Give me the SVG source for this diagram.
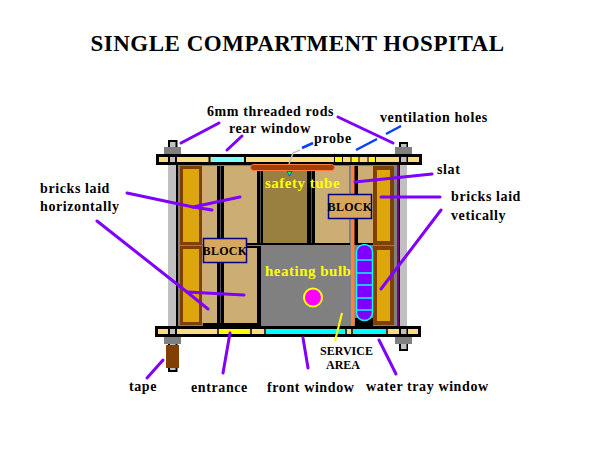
<svg xmlns="http://www.w3.org/2000/svg" width="600" height="450" viewBox="0 0 600 450">
<style>
text{font-family:"Liberation Serif",serif;font-weight:bold;font-size:14px;letter-spacing:.6px;fill:#000}
.y{fill:#ffff00;font-size:15px;letter-spacing:.5px}
.sm{font-size:12px;letter-spacing:0}
.bl{font-size:12px;letter-spacing:.3px}
.tan{fill:#ccae74}
.k{fill:#000}
.bar{fill:#ffdb80;stroke:#000;stroke-width:3}
.brick{fill:#dca60c;stroke:#804000}
.nut{fill:#808080}
.p{stroke:#7f00ff;stroke-width:3;fill:none;stroke-linecap:round}
.b{stroke:#0040ff;stroke-width:2.500;fill:none}
.block{fill:#d6a75c;stroke:#000080;stroke-width:1.500}
.rung{stroke:#00ffff;stroke-width:1.500}
</style>
<rect width="600" height="450" fill="#fff"/>
<text id="title" x="297.500" y="51" text-anchor="middle" style="font-size:23px;letter-spacing:.5px">SINGLE COMPARTMENT HOSPITAL</text>
<g id="enclosure">
<rect x="177" y="165" width="220" height="161" fill="#808080"/>
<rect x="397" y="165" width="2.500" height="161" fill="#800080"/>
</g>
<g id="rods">
<rect x="168" y="140" width="9.500" height="232" class="k"/>
<rect x="170" y="142" width="5.500" height="228" fill="#c0c0c0"/>
<rect x="168" y="154" width="8" height="172" fill="#c0c0c0"/>
<rect x="176" y="154" width="2" height="172" class="k"/>
<rect x="399" y="142" width="9" height="209" class="k"/>
<rect x="401" y="144" width="5.500" height="205" fill="#c0c0c0"/>
<rect x="400" y="165" width="7" height="161" fill="#c0c0c0"/>
<rect x="407" y="165" width="1.500" height="161" fill="#fff"/>
</g>
<g id="bricks-left">
<rect class="brick" x="181.500" y="167.500" width="19" height="76" stroke-width="3"/>
<rect class="brick" x="181.500" y="247.500" width="19" height="76" stroke-width="3"/>
</g>
<g id="safety-tube-panel">
<rect x="257" y="166" width="58" height="79" class="k"/>
<rect x="263" y="166" width="44" height="77" fill="#998040"/>
<rect x="260" y="166" width="1" height="77" fill="#555"/>
<rect x="311" y="166" width="1" height="77" fill="#555"/>
</g>
<g id="bricks-mid">
<rect class="tan" x="202" y="166" width="15" height="78"/>
<rect class="tan" x="202" y="246" width="15" height="77"/>
<rect class="k" x="217" y="166" width="7" height="160"/>
<rect x="220" y="166" width="1" height="160" fill="#555"/>
<rect class="k" x="224" y="243" width="37" height="5"/>
<rect class="k" x="257" y="246" width="4" height="80"/>
<rect class="k" x="203" y="323" width="58" height="3"/>
<rect class="tan" x="224" y="166" width="33" height="77"/>
<rect class="tan" x="224" y="248" width="33" height="75"/>
<rect x="180" y="245" width="217" height="1" fill="#808080"/>
<rect x="180" y="165" width="217" height="1" fill="#808080"/>
</g>
<g id="bricks-right">
<rect class="tan" x="315" y="166" width="34" height="77"/>
<rect class="k" x="263" y="243" width="87" height="2"/>
<rect class="k" x="354" y="166" width="4" height="79"/>
<rect class="tan" x="358" y="166" width="15" height="77"/>
<rect class="k" x="358" y="243" width="15" height="2"/>
<rect class="brick" x="375" y="168" width="17" height="75" stroke-width="4"/>
<rect class="brick" x="375" y="248" width="17" height="75" stroke-width="4"/>
<rect x="351" y="165" width="3.500" height="161" fill="#ff8040"/>
<rect x="355" y="318" width="18" height="8" class="k"/>
</g>
<g id="top-plate">
<rect class="bar" x="157.500" y="155.500" width="263" height="8"/>
<rect x="168" y="157" width="9" height="5" class="k"/>
<rect x="170" y="157" width="5" height="5" fill="#c0c0c0"/>
<rect x="399" y="157" width="9" height="5" class="k"/>
<rect x="401" y="157" width="5.500" height="5" fill="#c0c0c0"/>
<rect x="211" y="157" width="33" height="5" fill="#80ffff"/>
<path d="M209.500 157v5M245 157v5" stroke="#000" stroke-width="2"/>
<path d="M335 157h7v5h-7zM352 157h6v5h-6zM369 157h6v5h-6z" fill="#ffff00"/>
<path d="M334.500 157v5M342.500 157v5M351 157v5M359 157v5M368 157v5M375.500 157v5" stroke="#000"/>
</g>
<g id="bottom-plate">
<rect class="bar" x="156.500" y="327.500" width="263" height="8"/>
<rect x="168" y="329" width="9" height="5" class="k"/>
<rect x="170" y="329" width="5" height="5" fill="#c0c0c0"/>
<rect x="399" y="329" width="9" height="5" class="k"/>
<rect x="401" y="329" width="5.500" height="5" fill="#c0c0c0"/>
<rect x="219" y="329" width="31" height="5" fill="#ffff00"/>
<rect x="266" y="329" width="79" height="5" fill="#00ffff"/>
<rect x="353" y="329" width="33" height="5" fill="#00ffff"/>
<path d="M218 329v5M251 329v5M265 329v5M346 329v5M352 329v5M387 329v5" stroke="#000" stroke-width="1.500"/>
</g>
<g id="nuts">
<rect class="nut" x="164" y="147" width="17" height="7"/>
<rect class="nut" x="395" y="147" width="17" height="7"/>
<rect class="nut" x="164" y="337" width="17" height="7"/>
<rect class="nut" x="395" y="337" width="17" height="7"/>
</g>
<g id="tape"><rect x="166" y="345" width="13" height="23" fill="#804000"/></g>
<g id="safety-tube">
<rect x="250.500" y="164.500" width="84" height="6" rx="3" fill="#a0400c" stroke="#ff8040"/>
<path d="M287 171.500h5l-2.500 4.500z" fill="#00ff40" stroke="#0040ff" stroke-width=".8"/>
</g>
<g id="block-1">
<rect class="block" x="203.500" y="238.500" width="43" height="24"/>
<text x="225" y="255" text-anchor="middle" class="bl">BLOCK</text>
</g>
<g id="block-2">
<rect class="block" x="328.500" y="194.500" width="43" height="24"/>
<text x="350" y="210.500" text-anchor="middle" class="bl">BLOCK</text>
</g>
<g id="water-tray">
<rect x="356.500" y="244.500" width="16" height="76" rx="8" fill="#7f00ff" stroke="#00ffff" stroke-width="1.500"/>
<path class="rung" d="M357 260h15M357 273h15M357 285h15M357 298h15M357 310h15"/>
</g>
<g id="bulb"><circle cx="313" cy="297.500" r="9" fill="#ff00ff" stroke="#ffff00" stroke-width="2"/></g>
<g id="labels">
<text x="265" y="188" class="y">safety tube</text>
<text x="265" y="276" class="y">heating bulb</text>
<text x="207" y="115.500">6mm threaded rods</text>
<text x="229" y="133">rear window</text>
<text x="314" y="143">probe</text>
<text x="380" y="122">ventilation holes</text>
<text x="437" y="174">slat</text>
<text x="40" y="193">bricks laid</text>
<text x="40" y="211">horizontally</text>
<text x="451" y="201">bricks laid</text>
<text x="451" y="220">vetically</text>
<text x="320" y="355" class="sm">SERVICE</text>
<text x="326" y="369" class="sm">AREA</text>
<text x="129" y="391">tape</text>
<text x="191" y="392">entrance</text>
<text x="267" y="392">front window</text>
<text x="366" y="391">water tray window</text>
</g>
<g id="connectors">
<path class="p" d="M219 123L181 143"/>
<path class="p" d="M242 136L227 150"/>
<path class="p" d="M338 117L393 143"/>
<path class="b" d="M313 143L302 148"/>
<path class="b" d="M377 139L356 150"/>
<path class="b" d="M401 126L386 134"/>
<path d="M289 164L293 153L300 150" stroke="#c0c0c0" stroke-width="1.500" fill="none"/>
<path class="p" d="M127 193L193 207L212 210"/>
<path class="p" d="M193 207L240 197"/>
<path class="p" d="M97 221L187 292L208 309"/>
<path class="p" d="M187 292L244 295"/>
<path class="p" d="M355 182L432 174"/>
<path class="p" d="M381 197L440 197"/>
<path class="p" d="M441 210L381 289"/>
<path d="M342 313L335 341" stroke="#ffff00" stroke-width="2" fill="none"/>
<path class="p" d="M163 360L147 378"/>
<path class="p" d="M230 333L223 373"/>
<path class="p" d="M303 338L308 368"/>
<path class="p" d="M379 340L396 374"/>
</g>
</svg>
